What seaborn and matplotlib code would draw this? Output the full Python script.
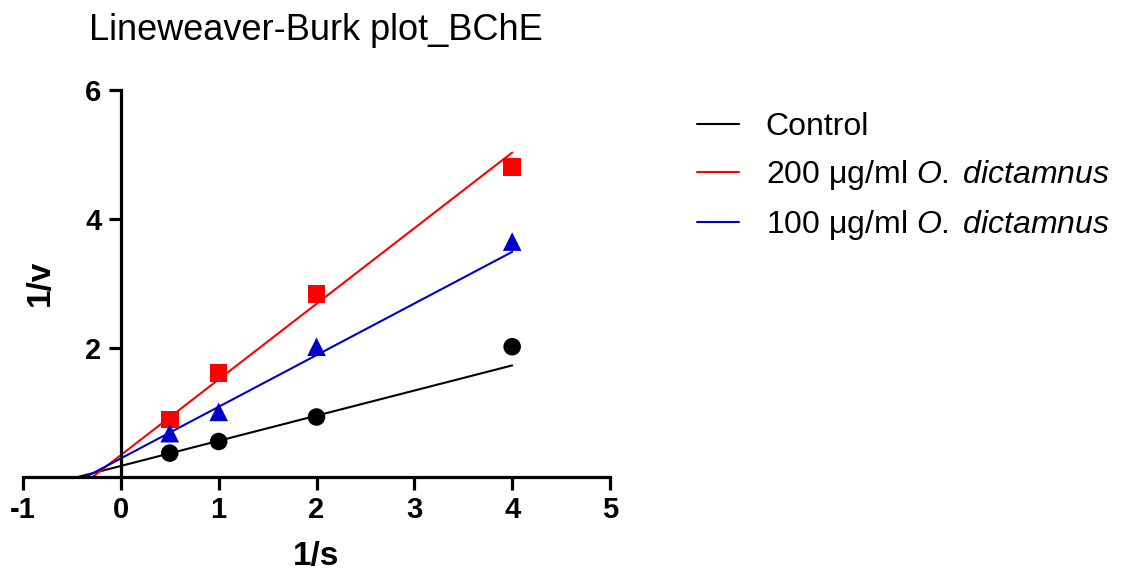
import matplotlib
matplotlib.use("Agg")
import matplotlib.pyplot as plt
import seaborn as sns
import pandas as pd
from matplotlib.lines import Line2D

sns.set_theme(style="white")
plt.rcParams['font.family'] = ['Liberation Sans', 'DejaVu Sans']
plt.rcParams['mathtext.fontset'] = 'custom'
plt.rcParams['mathtext.rm'] = 'Liberation Sans'
plt.rcParams['mathtext.it'] = 'Liberation Sans:italic'
plt.rcParams['axes.unicode_minus'] = False
plt.rcParams['text.color'] = 'black'
plt.rcParams['xtick.color'] = 'black'
plt.rcParams['ytick.color'] = 'black'
plt.rcParams['axes.labelcolor'] = 'black'

# ---- data ----
inv_s = [0.5, 1, 2, 4]
control = [0.37, 0.55, 0.93, 2.02]
od_200 = [0.89, 1.61, 2.84, 4.81]
od_100 = [0.68, 1.01, 2.02, 3.65]

series = ["Control", "200 μg/ml $\\mathit{O.}\\;\\mathit{dictamnus}$", "100 μg/ml $\\mathit{O.}\\;\\mathit{dictamnus}$"]
# fitted lines: x-intercept (start) and value at x = 4 (end)
fit_x_start = [-0.44, -0.29, -0.36]
fit_x_end = [4, 4, 4]
fit_y_end = [1.73, 5.03, 3.49]

colors = ["#000000", "#FF0000", "#0000CC"]
markers = ["o", "s", "^"]
msizes = [160, 160, 180]

pts = pd.DataFrame({
    "x": inv_s * 3,
    "y": control + od_200 + od_100,
    "g": [series[0]] * 4 + [series[1]] * 4 + [series[2]] * 4,
})
fits = pd.DataFrame({
    "x": [v for pair in zip(fit_x_start, fit_x_end) for v in pair],
    "y": [v for ye in fit_y_end for v in (0.0, ye)],
    "g": [s for s in series for _ in range(2)],
})

fig = plt.figure(figsize=(11.25, 5.82), dpi=100)
ax = fig.add_axes([23 / 1125, 1 - 477 / 582, (610 - 23) / 1125, (477 - 90) / 582])

pal = dict(zip(series, colors))
sns.lineplot(data=fits, x="x", y="y", hue="g", palette=pal, ax=ax, legend=False,
             linewidth=1.5, estimator=None, sort=False)
for s, m, ms in zip(series, markers, msizes):
    sub = pts[pts["g"] == s]
    sns.scatterplot(data=sub, x="x", y="y", color=pal[s], marker=m, s=ms,
                    edgecolor="none", ax=ax, legend=False, zorder=3)

ax.set_xlim(-1, 5)
ax.set_ylim(0, 6)
ax.set_xticks([-1, 0, 1, 2, 3, 4, 5])
ax.set_yticks([2, 4, 6])
ax.spines['top'].set_visible(False)
ax.spines['right'].set_visible(False)
ax.spines['left'].set_position(('data', 0))
for sp in ['left', 'bottom']:
    ax.spines[sp].set_linewidth(2.3)
    ax.spines[sp].set_color('black')
ax.tick_params(axis='both', which='major', length=9, width=2.3, color='black',
               direction='out', labelsize=21, pad=5)
ax.tick_params(axis='x', bottom=True)
ax.tick_params(axis='y', left=True)
for lab in ax.get_xticklabels() + ax.get_yticklabels():
    lab.set_fontweight('bold')

ax.set_xlabel("1/s", fontsize=24, fontweight='bold', labelpad=12)
ax.set_ylabel("")
fig.text(40 / 1125, 1 - 283 / 582, "1/v", rotation=90, fontsize=24, fontweight='bold',
         ha='center', va='center')
fig.text(316 / 1125, 1 - 30 / 582, "Lineweaver-Burk plot_BChE", fontsize=26,
         ha='center', va='center')

handles = [Line2D([0], [0], color=c, lw=1.5) for c in colors]
leg = fig.legend(handles, series, loc='upper left', bbox_to_anchor=(697 / 1125, 1 - 112 / 582),
                 frameon=False, fontsize=23, handlelength=1.3, handletextpad=0.85,
                 labelspacing=0.5, borderaxespad=0, borderpad=0)

fig.savefig("out.png", dpi=100)
